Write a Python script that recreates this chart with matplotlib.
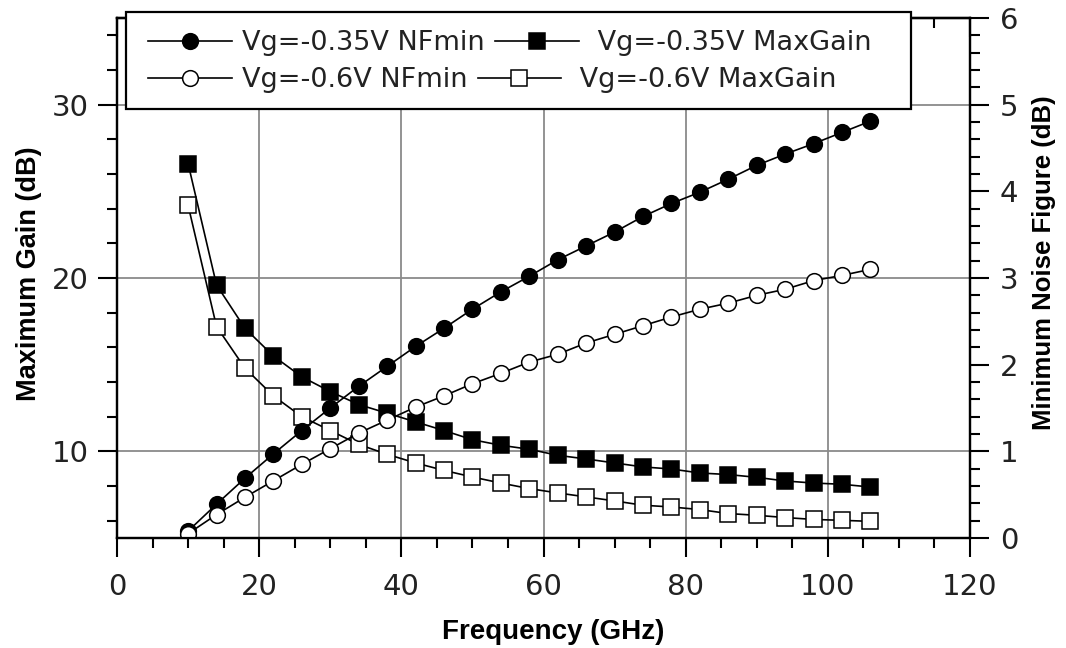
import matplotlib
matplotlib.use("Agg")
import matplotlib.pyplot as plt
from matplotlib.ticker import MultipleLocator
from matplotlib.patches import Rectangle

freq = [10, 14, 18, 22, 26, 30, 34, 38, 42, 46, 50, 54, 58,
        62, 66, 70, 74, 78, 82, 86, 90, 94, 98, 102, 106]

gain_035 = [26.6, 19.6, 17.1, 15.5, 14.3, 13.45, 12.7, 12.2, 11.7, 11.2, 10.67, 10.35, 10.12,
            9.77, 9.56, 9.33, 9.10, 8.98, 8.75, 8.66, 8.5, 8.29, 8.17, 8.10, 7.94]
gain_06 = [24.2, 17.2, 14.8, 13.2, 12.0, 11.2, 10.4, 9.83, 9.33, 8.9, 8.52, 8.17, 7.85,
           7.6, 7.37, 7.14, 6.89, 6.79, 6.64, 6.41, 6.31, 6.18, 6.07, 6.02, 5.96]
nf_035 = [0.08, 0.39, 0.69, 0.97, 1.24, 1.50, 1.75, 1.98, 2.21, 2.42, 2.64, 2.84, 3.02,
          3.21, 3.37, 3.53, 3.71, 3.86, 3.99, 4.14, 4.30, 4.43, 4.55, 4.68, 4.81]
nf_06 = [0.05, 0.27, 0.47, 0.66, 0.85, 1.03, 1.21, 1.36, 1.51, 1.64, 1.78, 1.90, 2.03,
         2.12, 2.25, 2.35, 2.45, 2.55, 2.64, 2.71, 2.80, 2.87, 2.97, 3.03, 3.10]

labels = ["Vg=-0.35V NFmin", " Vg=-0.35V MaxGain", "Vg=-0.6V NFmin", " Vg=-0.6V MaxGain"]

plt.rcParams["font.family"] = ["DejaVu Sans"]

W, H = 1066, 648
fig = plt.figure(figsize=(W / 100, H / 100), dpi=100)
L, R, T, B = 117, 970, 18, 538
ax = fig.add_axes([L / W, 1 - B / H, (R - L) / W, (B - T) / H])
ax2 = ax.twinx()

lab_font = "Liberation Sans"

line_kw = dict(color="black", lw=1.2, ms=11.3, mew=1.1, mec="black")
l_mg035, = ax.plot(freq, gain_035, marker="s", mfc="black", **line_kw)
l_mg06, = ax.plot(freq, gain_06, marker="s", mfc="white", **line_kw)
l_nf035, = ax2.plot(freq, nf_035, marker="o", mfc="black", **line_kw)
l_nf06, = ax2.plot(freq, nf_06, marker="o", mfc="white", **line_kw)

ax.set_xlim(0, 120)
ax.set_ylim(5, 35)
ax2.set_ylim(0, 6)

ax.xaxis.set_major_locator(MultipleLocator(20))
ax.xaxis.set_minor_locator(MultipleLocator(5))
ax.yaxis.set_major_locator(MultipleLocator(10))
ax.yaxis.set_minor_locator(MultipleLocator(2))
ax2.yaxis.set_major_locator(MultipleLocator(1))
ax2.yaxis.set_minor_locator(MultipleLocator(0.2))

ax.grid(True, which="major", color="#8a8a8a", lw=1.3)
ax.set_axisbelow(True)

for a in (ax, ax2):
    for s in a.spines.values():
        s.set_linewidth(1.6)
    a.tick_params(which="major", direction="out", length=13.5, width=1.5,
                  labelsize=21, labelcolor="#222222")
    a.tick_params(which="minor", direction="out", length=7, width=1.5)
ax.tick_params(axis="x", pad=12)
ax.tick_params(axis="y", pad=7)
ax2.tick_params(axis="y", pad=8)

# top axis ticks pointing inward
top = ax.secondary_xaxis("top")
top.xaxis.set_major_locator(MultipleLocator(20))
top.xaxis.set_minor_locator(MultipleLocator(5))
top.tick_params(which="both", direction="in", labeltop=False, width=1.5)
top.tick_params(which="major", length=13.5)
top.tick_params(which="minor", length=7)
top.spines["top"].set_linewidth(1.6)

ax.set_xlabel("Frequency (GHz)", family=lab_font, weight="bold", size=20)
ax.set_ylabel("Maximum Gain (dB)", family=lab_font, weight="bold", size=19.5)
ax2.set_ylabel("Minimum Noise Figure (dB)", family=lab_font, weight="bold", size=18.5)
ax.xaxis.set_label_coords((553 - L) / (R - L), (B - 619) / (B - T))
ax.yaxis.set_label_coords((42 - L) / (R - L), (B - 274) / (B - T))
ax2.yaxis.set_label_coords((1032 - L) / (R - L), (B - 263) / (B - T))

# legend frame and two rows
frame = Rectangle((126 / W, 1 - 109 / H), 785 / W, 97 / H, transform=fig.transFigure,
                  facecolor="white", edgecolor="black", lw=1.6, zorder=4, clip_on=False)
ax2.add_patch(frame)
leg_kw = dict(ncol=2, frameon=False, loc="center left", borderpad=0, borderaxespad=0,
              handlelength=3.1, handletextpad=0.37, columnspacing=0.37,
              bbox_transform=fig.transFigure,
              prop=dict(family="DejaVu Sans", size=19.5))
leg1 = ax2.legend([l_nf035, l_mg035], [labels[0], labels[1]],
                  bbox_to_anchor=(148 / W, 1 - 43 / H), **leg_kw)
ax2.add_artist(leg1)
leg2 = ax2.legend([l_nf06, l_mg06], [labels[2], labels[3]],
                  bbox_to_anchor=(148 / W, 1 - 80 / H), **leg_kw)
for lg in (leg1, leg2):
    lg.set_zorder(5)
    for t in lg.get_texts():
        t.set_color("#222222")

fig.savefig("out.png", dpi=100)
